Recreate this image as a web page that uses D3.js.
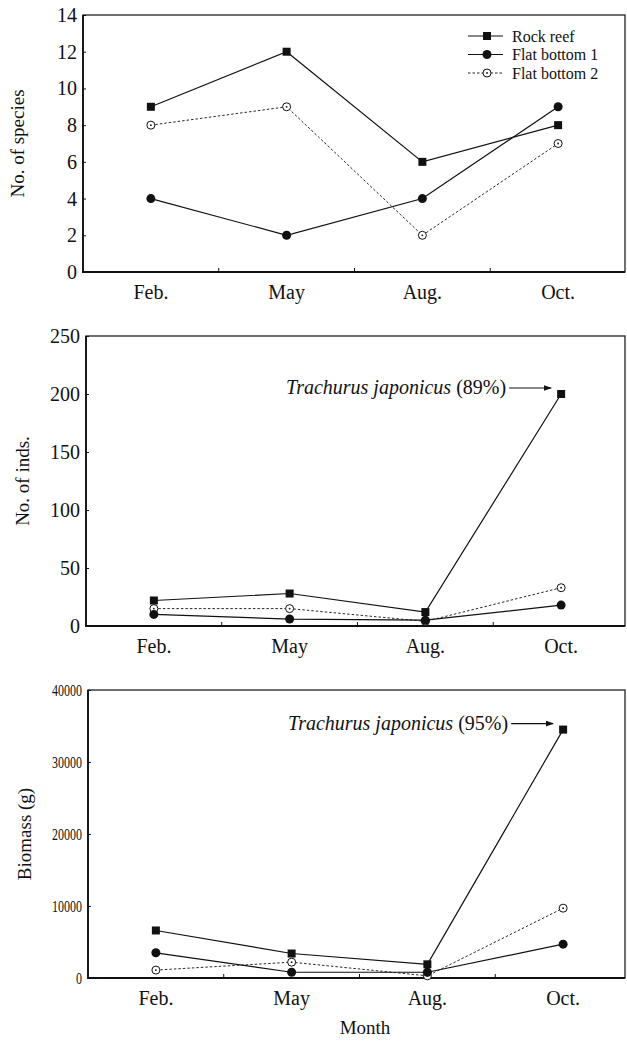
<!DOCTYPE html>
<html>
<head>
<meta charset="utf-8">
<script src="https://cdn.jsdelivr.net/npm/d3@7"></script>
<style>
  body { margin: 0; background: #fff; }
  text { font-family: "Liberation Serif", "Times New Roman", serif; fill: #111; }
</style>
</head>
<body>
<div id="chart"></div>
<script>
// categories
var months = ["Feb.", "May", "Aug.", "Oct."];
var seriesNames = ["Rock reef", "Flat bottom 1", "Flat bottom 2"];

// No. of species
var speciesRock = [9, 12, 6, 8];
var speciesFlat1 = [4, 2, 4, 9];
var speciesFlat2 = [8, 9, 2, 7];
var speciesTicks = [0, 2, 4, 6, 8, 10, 12, 14];

// No. of individuals
var indsRock = [22, 28, 12, 200];
var indsFlat1 = [10, 6, 5, 18];
var indsFlat2 = [15, 15, 4, 33];
var indsTicks = [0, 50, 100, 150, 200, 250];

// Biomass (g)
var bioRock = [6600, 3400, 1900, 34500];
var bioFlat1 = [3500, 800, 800, 4700];
var bioFlat2 = [1100, 2200, 300, 9700];
var bioTicks = [0, 10000, 20000, 30000, 40000];

var W = 627, H = 1041;

var svg = d3.select("#chart")
  .append("svg")
    .attr("width", W)
    .attr("height", H);

svg.append("defs").append("marker")
    .attr("id", "arrow")
    .attr("viewBox", "0 0 10 10")
    .attr("refX", 9).attr("refY", 5)
    .attr("markerWidth", 7).attr("markerHeight", 7)
    .attr("orient", "auto")
  .append("path")
    .attr("d", "M0,1.5 L10,5 L0,8.5 Z")
    .attr("fill", "#111");

// one panel
function drawPanel(p) {
  var g = svg.append("g");

  var x = d3.scaleBand()
    .domain(months)
    .range([p.left, p.left + 543]);

  var y = d3.scaleLinear()
    .domain([0, p.ticks[p.ticks.length - 1]])
    .range([p.bottom, p.top]);

  var cx = function(i) { return x(months[i]) + x.bandwidth() / 2; };

  // frame
  g.append("rect")
    .attr("x", p.left).attr("y", p.top)
    .attr("width", 625 - p.left).attr("height", p.bottom - p.top)
    .attr("fill", "none").attr("stroke", "#222").attr("stroke-width", 1.3);
  // heavier left and bottom axis lines
  g.append("path")
    .attr("d", "M" + p.left + "," + p.top + "V" + p.bottom + "H625")
    .attr("fill", "none").attr("stroke", "#111").attr("stroke-width", 1.8);

  // y ticks and labels
  var yAxis = g.append("g")
    .attr("transform", "translate(" + p.left + ",0)")
    .call(d3.axisRight(y).tickValues(p.ticks).tickSize(3).tickFormat(""));
  yAxis.select(".domain").remove();
  yAxis.selectAll("line").attr("stroke", "#111");

  g.selectAll(".ylab")
    .data(p.ticks)
    .enter().append("text")
      .attr("x", p.left - 6)
      .attr("y", function(d) { return y(d); })
      .attr("dy", "0.35em")
      .attr("text-anchor", "end")
      .style("font-size", p.tickFont + "px")
      .attr("textLength", function(d) { return p.condensed ? String(d).length * 6 : null; })
      .attr("lengthAdjust", "spacingAndGlyphs")
      .text(function(d) { return d; });

  // x ticks between months (pointing up)
  g.selectAll(".xtick")
    .data(months.slice(1))
    .enter().append("line")
      .attr("x1", function(d) { return x(d); })
      .attr("x2", function(d) { return x(d); })
      .attr("y1", p.bottom)
      .attr("y2", p.bottom - 4)
      .attr("stroke", "#111");

  g.selectAll(".xlab")
    .data(months)
    .enter().append("text")
      .attr("x", function(d) { return x(d) + x.bandwidth() / 2; })
      .attr("y", p.bottom + 27)
      .attr("text-anchor", "middle")
      .style("font-size", "20px")
      .text(function(d) { return d; });

  // y title
  g.append("text")
    .attr("transform", "translate(" + p.titleX + "," + ((p.top + p.bottom) / 2) + ") rotate(-90)")
    .attr("text-anchor", "middle")
    .style("font-size", "19px")
    .text(p.title);

  var line = d3.line()
    .x(function(d, i) { return cx(i); })
    .y(function(d) { return y(d); });

  // Rock reef
  g.append("path").datum(p.rock)
    .attr("fill", "none").attr("stroke", "#111").attr("stroke-width", 1.2)
    .attr("d", line);
  // Flat bottom 1
  g.append("path").datum(p.flat1)
    .attr("fill", "none").attr("stroke", "#111").attr("stroke-width", 1.2)
    .attr("d", line);
  // Flat bottom 2
  g.append("path").datum(p.flat2)
    .attr("fill", "none").attr("stroke", "#111").attr("stroke-width", 0.9)
    .attr("stroke-dasharray", "2.5,2")
    .attr("d", line);

  // markers
  g.selectAll(".m2").data(p.flat2).enter().append("circle")
    .attr("cx", function(d, i) { return cx(i); }).attr("cy", function(d) { return y(d); })
    .attr("r", 4).attr("fill", "#fff").attr("stroke", "#111").attr("stroke-width", 1);
  g.selectAll(".m2d").data(p.flat2).enter().append("circle")
    .attr("cx", function(d, i) { return cx(i); }).attr("cy", function(d) { return y(d); })
    .attr("r", 0.9).attr("fill", "#111");
  g.selectAll(".m1").data(p.flat1).enter().append("circle")
    .attr("cx", function(d, i) { return cx(i); }).attr("cy", function(d) { return y(d); })
    .attr("r", 4.5).attr("fill", "#111");
  g.selectAll(".m0").data(p.rock).enter().append("rect")
    .attr("x", function(d, i) { return cx(i) - 4; }).attr("y", function(d) { return y(d) - 4; })
    .attr("width", 8).attr("height", 8).attr("fill", "#111");

  // annotation
  if (p.note) {
    var ax = cx(3), ay = y(p.rock[3]);
    g.append("line")
      .attr("x1", ax - 52).attr("x2", ax - 10)
      .attr("y1", ay - 6).attr("y2", ay - 6)
      .attr("stroke", "#111").attr("stroke-width", 1.2)
      .attr("marker-end", "url(#arrow)");
    var t = g.append("text")
      .attr("x", ax - 55).attr("y", ay)
      .attr("text-anchor", "end")
      .style("font-size", "20px");
    t.append("tspan").style("font-style", "italic").text("Trachurus japonicus");
    t.append("tspan").text(" " + p.note);
  }
  return g;
}

drawPanel({ left: 83, top: 15, bottom: 272, ticks: speciesTicks, tickFont: 20,
  title: "No. of species", titleX: 24, rock: speciesRock, flat1: speciesFlat1, flat2: speciesFlat2 });
drawPanel({ left: 86, top: 336, bottom: 626, ticks: indsTicks, tickFont: 20,
  title: "No. of inds.", titleX: 29, rock: indsRock, flat1: indsFlat1, flat2: indsFlat2, note: "(89%)" });
drawPanel({ left: 88, top: 690, bottom: 978, ticks: bioTicks, tickFont: 16, condensed: true,
  title: "Biomass (g)", titleX: 31, rock: bioRock, flat1: bioFlat1, flat2: bioFlat2, note: "(95%)" });

// Legend (top panel)
var legend = svg.append("g");
seriesNames.forEach(function(name, i) {
  var ly = 36 + i * 18.5;
  legend.append("line")
    .attr("x1", 468).attr("x2", 503).attr("y1", ly).attr("y2", ly)
    .attr("stroke", "#111").attr("stroke-width", i == 2 ? 0.9 : 1.2)
    .attr("stroke-dasharray", i == 2 ? "2.5,2" : null);
  if (i == 0) {
    legend.append("rect").attr("x", 483).attr("y", ly - 4).attr("width", 8).attr("height", 8).attr("fill", "#111");
  } else if (i == 1) {
    legend.append("circle").attr("cx", 487).attr("cy", ly).attr("r", 4.5).attr("fill", "#111");
  } else {
    legend.append("circle").attr("cx", 487).attr("cy", ly).attr("r", 4).attr("fill", "#fff").attr("stroke", "#111");
    legend.append("circle").attr("cx", 487).attr("cy", ly).attr("r", 0.9).attr("fill", "#111");
  }
  legend.append("text")
    .attr("x", 512).attr("y", ly).attr("dy", "0.35em")
    .style("font-size", "16px")
    .text(name);
});

// x title
svg.append("text")
  .attr("x", 365).attr("y", 1034)
  .attr("text-anchor", "middle")
  .style("font-size", "19px")
  .text("Month");
</script>
</body>
</html>
